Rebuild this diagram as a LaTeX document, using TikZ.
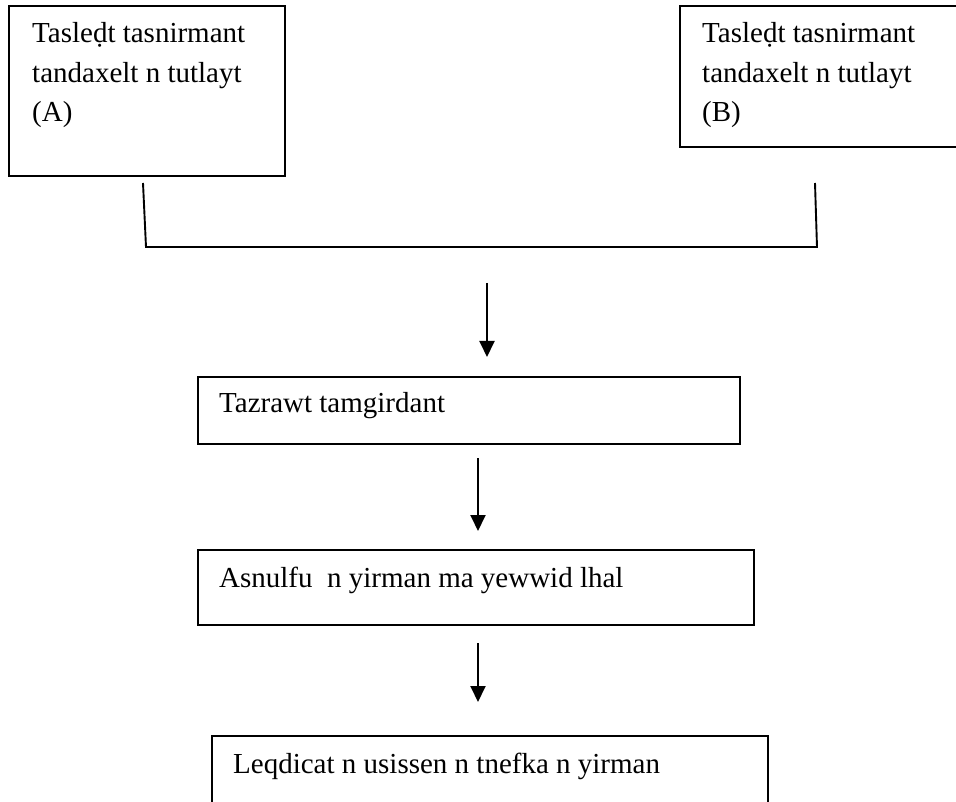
\documentclass[tikz,border=0pt]{standalone}
\usepackage{fontspec}
\setmainfont{Liberation Serif}
\usetikzlibrary{arrows.meta}
\tikzset{
  box/.style={draw=black, line width=2pt, rectangle, inner sep=0pt, anchor=north west},
  txt/.style={anchor=base west, inner sep=0pt, font=\fontsize{29}{39.5}\selectfont},
  link/.style={draw=black, line width=1.9pt},
  flow/.style={draw=black, line width=1.9pt, -{Triangle[width=15pt,length=16pt]}}
}
\begin{document}
\begin{tikzpicture}[x=1pt, y=-1pt]
\useasboundingbox (0,0) rectangle (956,802);
% boxes
\node[box, minimum width=276pt, minimum height=170pt] (boxA) at (8,5) {};
\node[box, minimum width=285pt, minimum height=141pt] (boxB) at (679,5) {};
\node[box, minimum width=542pt, minimum height=67pt] (boxC) at (197,376) {};
\node[box, minimum width=556pt, minimum height=75pt] (boxD) at (197,549) {};
\node[box, minimum width=556pt, minimum height=90pt] (boxE) at (211,735) {};
% texts
\node[txt] (tA) at (32,43) {\parbox[t]{250pt}{\fontsize{29}{39.5}\selectfont Tasleḍt tasnirmant\\tandaxelt n tutlayt\\(A)}};
\node[txt] (tB) at (702,43) {\parbox[t]{250pt}{\fontsize{29}{39.5}\selectfont Tasleḍt tasnirmant\\tandaxelt n tutlayt\\(B)}};
\node[txt] (tC) at (219,412) {Tazrawt tamgirdant};
\node[txt] (tD) at (219,587) {Asnulfu~~n yirman ma yewwid lhal};
\node[txt] (tE) at (233,773) {Leqdicat n usissen n tnefka n yirman};
% joining bracket
\coordinate (jA1) at (143,183);
\coordinate (jA2) at (146,247);
\coordinate (jB2) at (817,247);
\coordinate (jB1) at (815,183);
\draw[link] (jA1) -- (jA2) -- (jB2) -- (jB1);
% arrows
\coordinate (a1s) at (487,283);
\coordinate (a1e) at (487,357);
\coordinate (a2s) at (478,458);
\coordinate (a2e) at (478,531);
\coordinate (a3s) at (478,643);
\coordinate (a3e) at (478,702);
\draw[flow] (a1s) -- (a1e);
\draw[flow] (a2s) -- (a2e);
\draw[flow] (a3s) -- (a3e);
\end{tikzpicture}
\end{document}
